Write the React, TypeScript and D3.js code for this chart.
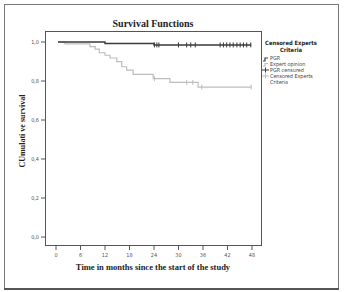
import React from "react";
import * as d3 from "d3";

const xTicks = [0, 6, 12, 18, 24, 30, 36, 42, 48];
const yTicks = [0, 0.2, 0.4, 0.6, 0.8, 1.0];
const yTickLabels = ["0,0", "0,2", "0,4", "0,6", "0,8", "1,0"];

const startTime = 0.5;
const endTime = 47.8;

const pgrEventTimes = [12, 24];
const pgrEventSurv = [0.992, 0.985];
const pgrCensorTimes = [24.1, 24.7, 25.2, 30, 32, 33, 34.1, 40.2, 41, 41.8, 42.6, 43.4, 44.3, 45.1, 45.9, 46.7, 47.7];

const expEventTimes = [2.2, 8.3, 9.6, 10.6, 12, 13.2, 14.9, 16.1, 17.3, 18.9, 23.8, 27.9, 34.8];
const expEventSurv = [0.99, 0.976, 0.963, 0.945, 0.932, 0.918, 0.899, 0.873, 0.856, 0.834, 0.812, 0.793, 0.769];
const expCensorTimes = [24.1, 32, 33.5, 35.7, 47.8];

const legendTitle = ["Censored Experts", "Criteria"];
const legendItems = ["PGR", "Expert opinion", "PGR censured", "Censored Experts", "Criteria"];

const DARK = "#3a3a3a";
const LIGHT = "#bdbdbd";

const x = d3.scaleLinear().domain([0, 48]).range([56, 252]);
const y = d3.scaleLinear().domain([0, 1]).range([237, 42]);

function stepPoints(times: number[], surv: number[]): [number, number][] {
  const pts: [number, number][] = [[startTime, 1]];
  times.forEach((t, i) => pts.push([t, surv[i]]));
  pts.push([endTime, surv[surv.length - 1]]);
  return pts;
}
function survAt(times: number[], surv: number[], t: number) {
  let s = 1;
  times.forEach((tt, i) => {
    if (tt <= t) s = surv[i];
  });
  return s;
}

const line = d3
  .line<[number, number]>()
  .x((d) => x(d[0]))
  .y((d) => y(d[1]))
  .curve(d3.curveStepAfter);

const serif = "'Liberation Serif', 'DejaVu Serif', serif";
const narrow = "'Liberation Sans Narrow', 'DejaVu Sans Condensed', 'Liberation Sans', sans-serif";

export default function App() {
  const pgrPts = stepPoints(pgrEventTimes, pgrEventSurv);
  const expPts = stepPoints(expEventTimes, expEventSurv);
  return (
    <svg
      width={345}
      height={292}
      style={{ position: "absolute", left: 0, top: 0, background: "#fff" }}
    >
      <rect x={0} y={0} width={345} height={292} fill="#fff" />
      <rect x={4.5} y={4.5} width={334} height={284} fill="none" stroke="#777" strokeWidth={1} />
      <line x1={4} x2={339} y1={289} y2={289} stroke="#555" strokeWidth={2} />

      <text x={153} y={27} textAnchor="middle" fontFamily={serif} fontWeight="bold" fontSize={10} fill="#222">
        Survival Functions
      </text>

      <rect x={45.5} y={31.5} width={216} height={214} fill="none" stroke="#555" strokeWidth={1} />

      {yTicks.map((v, i) => (
        <g key={"y" + i}>
          <line x1={41} x2={45} y1={y(v)} y2={y(v)} stroke="#555" />
          <text x={39} y={y(v) + 2} textAnchor="end" fontFamily={narrow} fontSize={5.5} fill="#555">
            {yTickLabels[i]}
          </text>
        </g>
      ))}
      {xTicks.map((v, i) => (
        <g key={"x" + i}>
          <line x1={x(v)} x2={x(v)} y1={246} y2={250} stroke="#555" />
          <text x={x(v)} y={257} textAnchor="middle" fontFamily={narrow} fontSize={5.5} fill="#555">
            {v}
          </text>
        </g>
      ))}

      <text x={153} y={270} textAnchor="middle" fontFamily={serif} fontWeight="bold" fontSize={8.5} fill="#222">
        Time in months since the start of the study
      </text>
      <text
        transform="translate(25,131) rotate(-90)"
        textAnchor="middle"
        fontFamily={serif}
        fontWeight="bold"
        fontSize={8}
        fill="#222"
      >
        CUmulati ve survival
      </text>

      <path d={line(expPts) || ""} fill="none" stroke={LIGHT} strokeWidth={1.2} />
      <path d={line(pgrPts) || ""} fill="none" stroke={DARK} strokeWidth={1.4} />
      {expCensorTimes.map((t, i) => {
        const s = survAt(expEventTimes, expEventSurv, t);
        return <line key={"ec" + i} x1={x(t)} x2={x(t)} y1={y(s) - 2.5} y2={y(s) + 2.5} stroke={LIGHT} strokeWidth={1} />;
      })}
      {pgrCensorTimes.map((t, i) => {
        const s = survAt(pgrEventTimes, pgrEventSurv, t);
        return <line key={"pc" + i} x1={x(t)} x2={x(t)} y1={y(s) - 2.5} y2={y(s) + 2.5} stroke={DARK} strokeWidth={1} />;
      })}

      {legendTitle.map((t, i) => (
        <text key={"lt" + i} x={291} y={45 + i * 6.5} textAnchor="middle" fontFamily={narrow} fontWeight="bold" fontSize={5.8} fill="#222">
          {t}
        </text>
      ))}
      <path d="M263,61 H265 V58 H268" fill="none" stroke={DARK} strokeWidth={1.2} />
      <path d="M263,66 H265 V63.5 H268" fill="none" stroke={LIGHT} strokeWidth={1.2} />
      <line x1={262} x2={269} y1={70} y2={70} stroke={DARK} strokeWidth={1} />
      <line x1={265.5} x2={265.5} y1={67.5} y2={72.5} stroke={DARK} strokeWidth={1} />
      <line x1={262} x2={269} y1={76} y2={76} stroke={LIGHT} strokeWidth={1} />
      <line x1={265.5} x2={265.5} y1={73.5} y2={78.5} stroke={LIGHT} strokeWidth={1} />
      {legendItems.map((t, i) => (
        <text key={"li" + i} x={270} y={60 + i * 6} fontFamily={narrow} fontSize={5.4} fill="#444">
          {t}
        </text>
      ))}
    </svg>
  );
}
